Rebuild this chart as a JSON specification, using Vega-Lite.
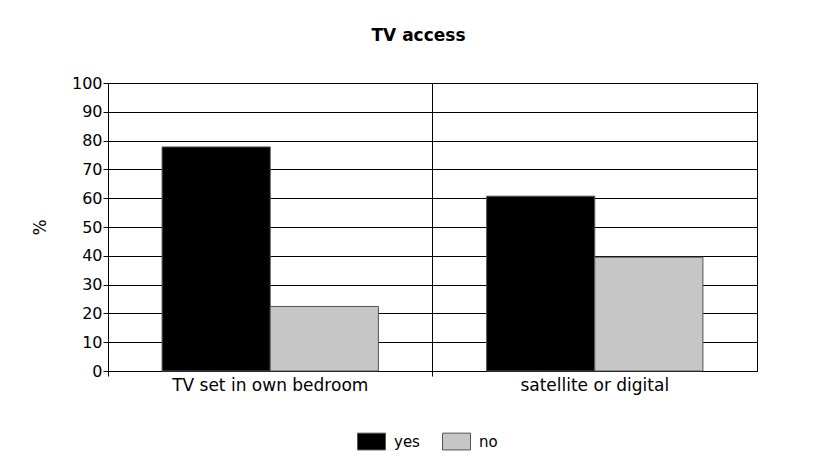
{
  "$schema": "https://vega.github.io/schema/vega-lite/v6.json",
  "width": 649,
  "height": 288,
  "autosize": {"type": "none"},
  "padding": {"left": 108, "top": 83, "right": 57, "bottom": 88},
  "background": "white",
  "title": {"text": "TV access", "fontSize": 17, "fontWeight": "bold", "font": "DejaVu Sans", "color": "#000", "offset": 30, "dx": -14},
  "data": {"values": [
    {"category": "TV set in own bedroom", "answer": "yes", "pct": 77.8},
    {"category": "TV set in own bedroom", "answer": "no", "pct": 22.4},
    {"category": "satellite or digital", "answer": "yes", "pct": 60.7},
    {"category": "satellite or digital", "answer": "no", "pct": 39.5}
  ]},
  "mark": {"type": "bar", "stroke": "#555", "strokeWidth": 1},
  "encoding": {
    "x": {"field": "category", "type": "nominal", "sort": null,
      "scale": {"paddingInner": 0, "paddingOuter": 0},
      "axis": {"title": null, "labelAngle": 0, "bandPosition": 0, "grid": true, "gridColor": "#000", "gridOpacity": 1, "labelLimit": 400,
        "domainColor": "#000", "tickColor": "#000", "tickSize": 5, "labelFontSize": 17, "labelFont": "DejaVu Sans", "labelColor": "#000", "labelPadding": 1}},
    "xOffset": {"field": "answer", "type": "nominal", "sort": ["yes", "no"], "scale": {"paddingInner": 0, "paddingOuter": 0.5}},
    "y": {"field": "pct", "type": "quantitative",
      "scale": {"domain": [0, 100], "nice": false},
      "axis": {"title": "%", "titleFontSize": 17, "titleFont": "DejaVu Sans", "titleFontWeight": "normal", "titleColor": "#000", "titlePadding": 22,
        "values": [0,10,20,30,40,50,60,70,80,90,100], "grid": true, "gridColor": "#000", "gridOpacity": 1,
        "domainColor": "#000", "tickColor": "#000", "tickSize": 5, "labelFontSize": 16, "labelFont": "DejaVu Sans", "labelColor": "#000", "labelPadding": 1}},
    "color": {"field": "answer", "type": "nominal", "sort": ["yes", "no"],
      "scale": {"domain": ["yes", "no"], "range": ["#000000", "#c6c6c6"]},
      "legend": {"title": null, "orient": "none", "legendX": 249, "legendY": 344, "direction": "horizontal",
        "symbolType": "M-1,-0.6H1V0.6H-1Z", "symbolSize": 784, "symbolStrokeColor": "#555", "symbolStrokeWidth": 1, "symbolOpacity": 1,
        "labelFontSize": 15, "labelFont": "DejaVu Sans", "labelColor": "#000", "columnPadding": 20, "labelOffset": 8, "padding": 0}}
  },
  "config": {"view": {"stroke": "#000", "strokeWidth": 1}}
}
